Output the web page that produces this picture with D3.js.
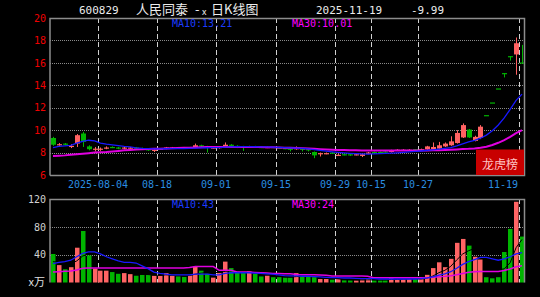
<!DOCTYPE html>
<html>
<head>
    <meta charset="utf-8">
    <title>600829 日K线图</title>
    <script src="https://d3js.org/d3.v7.min.js"></script>
    <style>
        body { margin: 0; background: #000; }
        svg { display: block; }
    </style>
</head>
<body>
<div id="chart"></div>
<script type="text/javascript">
    // trading days shown (80 bars)
    const dates = [
        '2025-07-23', '2025-07-24', '2025-07-25', '2025-07-28', '2025-07-29', '2025-07-30', '2025-07-31', '2025-08-01',
        '2025-08-04', '2025-08-05', '2025-08-06', '2025-08-07', '2025-08-08',
        '2025-08-11', '2025-08-12', '2025-08-13', '2025-08-14', '2025-08-15',
        '2025-08-18', '2025-08-19', '2025-08-20', '2025-08-21', '2025-08-22',
        '2025-08-25', '2025-08-26', '2025-08-27', '2025-08-28', '2025-08-29',
        '2025-09-01', '2025-09-02', '2025-09-03', '2025-09-04', '2025-09-05',
        '2025-09-08', '2025-09-09', '2025-09-10', '2025-09-11', '2025-09-12',
        '2025-09-15', '2025-09-16', '2025-09-17', '2025-09-18', '2025-09-19',
        '2025-09-22', '2025-09-23', '2025-09-24', '2025-09-25', '2025-09-26',
        '2025-09-29', '2025-09-30',
        '2025-10-09', '2025-10-10',
        '2025-10-13', '2025-10-14', '2025-10-15', '2025-10-16', '2025-10-17',
        '2025-10-20', '2025-10-21', '2025-10-22', '2025-10-23', '2025-10-24',
        '2025-10-27', '2025-10-28', '2025-10-29', '2025-10-30', '2025-10-31',
        '2025-11-03', '2025-11-04', '2025-11-05', '2025-11-06', '2025-11-07',
        '2025-11-10', '2025-11-11', '2025-11-12', '2025-11-13', '2025-11-14',
        '2025-11-17', '2025-11-18', '2025-11-19'
    ];

    const open = [9.3, 8.7, 8.8, 8.55, 8.8, 9.7, 8.55, 8.3, 8.3, 8.35,
        8.5, 8.45, 8.35, 8.4, 8.45, 8.4, 8.3, 8.15, 8.3, 8.35,
        8.4, 8.45, 8.45, 8.4, 8.45, 8.65, 8.55, 8.4, 8.4, 8.5,
        8.7, 8.6, 8.55, 8.5, 8.55, 8.5, 8.45, 8.5, 8.45, 8.4,
        8.35, 8.3, 8.35, 8.3, 8.05, 7.85, 7.9, 8.0, 7.75, 7.85,
        7.85, 7.8, 7.7, 7.9, 8.05, 8.05, 8.1, 8.05, 8.2, 8.2,
        8.2, 8.3, 8.25, 8.3, 8.3, 8.35, 8.55, 8.65, 8.85, 9.35,
        10.05, 9.04, 9.3, 11.34, 12.47, 13.72, 15.09, 16.6, 16.75, 17.6];
    const high = [9.4, 8.85, 8.85, 8.75, 9.65, 9.85, 8.65, 8.5, 8.45, 8.55,
        8.55, 8.5, 8.5, 8.5, 8.5, 8.45, 8.35, 8.3, 8.4, 8.5,
        8.5, 8.5, 8.5, 8.5, 8.8, 8.7, 8.6, 8.5, 8.55, 8.9,
        8.75, 8.65, 8.6, 8.6, 8.6, 8.55, 8.55, 8.5, 8.5, 8.45,
        8.4, 8.55, 8.4, 8.35, 8.1, 8.0, 8.0, 8.05, 7.9, 7.9,
        7.9, 7.9, 7.9, 8.05, 8.1, 8.1, 8.15, 8.25, 8.3, 8.3,
        8.3, 8.3, 8.35, 8.6, 8.9, 8.95, 8.9, 9.45, 10.0, 10.6,
        10.1, 9.5, 10.45, 11.34, 12.47, 13.72, 15.09, 16.6, 18.26, 17.6];
    const low = [8.6, 8.6, 8.65, 8.4, 8.5, 8.5, 8.2, 8.1, 8.15, 8.3,
        8.4, 8.3, 8.3, 8.35, 8.3, 8.3, 8.15, 8.05, 8.25, 8.3,
        8.35, 8.35, 8.35, 8.35, 8.4, 8.45, 8.0, 8.35, 8.35, 8.45,
        8.5, 8.4, 8.15, 8.45, 8.45, 8.4, 8.4, 8.4, 8.35, 8.3,
        8.1, 8.25, 8.1, 8.1, 7.5, 7.65, 7.85, 7.9, 7.7, 7.75,
        7.7, 7.75, 7.6, 7.85, 7.95, 7.95, 8.0, 8.0, 8.15, 8.15,
        8.15, 8.2, 8.2, 8.25, 8.25, 8.3, 8.5, 8.6, 8.8, 9.3,
        9.3, 9.0, 9.2, 11.34, 12.47, 13.72, 14.7, 16.2, 14.94, 15.98];
    const close = [8.7, 8.75, 8.7, 8.6, 9.55, 8.95, 8.3, 8.35, 8.35, 8.45,
        8.45, 8.35, 8.45, 8.45, 8.4, 8.35, 8.2, 8.25, 8.35, 8.45,
        8.45, 8.4, 8.4, 8.45, 8.65, 8.55, 8.45, 8.45, 8.5, 8.7,
        8.6, 8.55, 8.5, 8.55, 8.5, 8.45, 8.5, 8.45, 8.4, 8.35,
        8.3, 8.4, 8.3, 8.2, 7.75, 7.95, 7.95, 7.95, 7.8, 7.8,
        7.8, 7.85, 7.85, 8.0, 8.0, 8.0, 8.05, 8.2, 8.25, 8.25,
        8.25, 8.25, 8.3, 8.55, 8.5, 8.65, 8.8, 9.0, 9.75, 10.45,
        9.35, 9.4, 10.31, 11.34, 12.47, 13.72, 15.09, 16.6, 17.75, 15.98];

    // price moving averages
    const ma10 = [8.45, 8.55, 8.6, 8.65, 8.85, 9.0, 9.1, 9.05, 8.85, 8.75,
        8.68, 8.62, 8.55, 8.5, 8.42, 8.37, 8.35, 8.33, 8.33, 8.34,
        8.35, 8.35, 8.36, 8.38, 8.4, 8.42, 8.43, 8.44, 8.45, 8.48,
        8.5, 8.52, 8.53, 8.53, 8.52, 8.51, 8.5, 8.49, 8.47, 8.45,
        8.42, 8.4, 8.37, 8.33, 8.27, 8.2, 8.13, 8.07, 8.02, 7.97,
        7.93, 7.9, 7.88, 7.87, 7.88, 7.9, 7.92, 7.95, 7.98, 8.02,
        8.06, 8.1, 8.14, 8.19, 8.24, 8.3, 8.37, 8.45, 8.6, 8.78,
        8.96, 9.08, 9.28, 9.56, 9.95, 10.46, 11.09, 11.85, 12.65, 13.21];
    const ma30 = [7.7, 7.72, 7.75, 7.8, 7.85, 7.9, 7.95, 8.0, 8.02, 8.05,
        8.1, 8.15, 8.2, 8.24, 8.27, 8.3, 8.32, 8.33, 8.35, 8.36,
        8.38, 8.4, 8.42, 8.44, 8.46, 8.48, 8.49, 8.5, 8.5, 8.5,
        8.5, 8.5, 8.5, 8.5, 8.5, 8.49, 8.48, 8.47, 8.46, 8.44,
        8.42, 8.4, 8.38, 8.36, 8.33, 8.3, 8.28, 8.26, 8.24, 8.22,
        8.21, 8.2, 8.19, 8.18, 8.18, 8.18, 8.18, 8.18, 8.18, 8.18,
        8.18, 8.18, 8.18, 8.19, 8.2, 8.21, 8.23, 8.25, 8.28, 8.31,
        8.33, 8.37, 8.43, 8.52, 8.68, 8.87, 9.11, 9.4, 9.73, 10.01];

    // volume, in 万 (10k) lots
    const volume = [41, 25, 19, 22, 50, 74, 39, 20, 17, 17,
        15, 12.5, 13.5, 12, 9.7, 11, 11, 9.7, 9.7, 13.5,
        9.7, 8.7, 8, 10.4, 23, 17, 12.5, 7, 13.5, 30,
        20.7, 15, 13.5, 16, 12.5, 8.7, 9.7, 7.6, 7.6, 7,
        7, 13.5, 8.7, 8.7, 7.6, 5, 5, 4, 5, 3,
        3, 3, 4, 6, 3, 3, 3, 7.6, 5, 5,
        5, 5, 5, 11, 20.7, 29, 22, 34, 57, 62.6,
        53, 37, 33, 7.6, 6, 7.6, 43.8, 77, 116, 66];
    const vma5 = [30, 29, 28, 27, 31, 38, 41, 41, 40, 33,
        22, 16, 15, 14, 12.5, 11.6, 11.4, 10.7, 10.2, 11,
        10.7, 10.3, 9.9, 10, 12, 13.4, 14.2, 14, 14.7, 16,
        16.7, 17.3, 18.5, 19, 15.5, 13.1, 12.1, 10.9, 9.3, 8.1,
        7.8, 8.5, 8.8, 9, 9.1, 8.7, 7, 6.1, 5.3, 4.4,
        4, 3.6, 3.6, 3.8, 3.8, 3.8, 3.8, 4.5, 4.3, 4.7,
        5.1, 5.5, 5, 6.2, 9.3, 14.1, 17.5, 23.3, 32.5, 40.9,
        45.7, 48.7, 48.5, 38.6, 27.3, 18.4, 19.6, 28.4, 50.1, 61.9];
    const vma10 = [27, 29, 30, 32, 37, 42, 44, 44, 41, 37,
        34, 31, 29, 29, 28, 24, 20, 15, 13, 12,
        11, 11, 11, 11, 12, 12, 12, 11, 11, 13,
        14, 14, 14, 14, 13.5, 13, 12.5, 12, 11, 10,
        9.5, 9.5, 9, 9, 8.5, 8, 7.5, 7, 7, 6.5,
        6.5, 6, 5.5, 5.5, 5.5, 5, 5, 5, 5, 5,
        5, 5, 5.5, 6.5, 8, 10.5, 12.5, 15.5, 20.5, 26,
        30, 33, 36, 36, 34, 32, 34, 37, 41, 43];
    const vma30 = [15, 15.5, 16, 16.5, 18, 20.5, 20.7, 20.7, 20.7, 20.7,
        20.7, 20.7, 20.7, 20.7, 20.7, 20.7, 20.7, 20.7, 20.7, 20.7,
        20.7, 20.7, 20.7, 21.5, 23, 23, 23, 23, 17.5, 17.5,
        17.5, 15, 15, 15, 14.5, 14, 13.5, 13, 12.8, 12.6,
        12.4, 11.5, 11, 11, 11, 10.8, 10.5, 9.5, 9.5, 9.5,
        9.5, 9.5, 9.3, 9, 7, 7, 7, 7, 7, 7,
        7, 7, 7, 7, 7.5, 8.2, 8.8, 9.6, 11.2, 13,
        14.6, 15.4, 15.9, 15.9, 15.9, 15.9, 17.2, 19.5, 22.6, 24];

    // axis labels
    const priceTicks = [6, 8, 10, 12, 14, 16, 18, 20];
    const volTicks = [40, 80, 120];
    const dateTicks = ['2025-08-04', '2025-08-18', '2025-09-01', '2025-09-15', '2025-09-29', '2025-10-15', '2025-10-27', '2025-11-19'];
    const dateTickLabels = ['2025-08-04', '08-18', '09-01', '09-15', '09-29', '10-15', '10-27', '11-19'];

    const code = '600829', name = '人民同泰', lastDate = '2025-11-19', lastChange = '-9.99';

    const width = 540, height = 297;
    const left = 50, right = 525;
    const pTop = 18, pBottom = 175;
    const vTop = 199, vBottom = 282.5;

    const red = '#ff6262', green = '#00b400';
    const mono = '"DejaVu Sans Mono", monospace';
    const cjk = '"Noto Sans CJK SC", sans-serif';

    const svg = d3.select('#chart').append('svg')
        .attr('width', width).attr('height', height)
        .style('background', '#000');

    const x = d3.scaleBand(d3.range(dates.length), [left, right]);
    const bw = x.bandwidth();
    const cx = i => x(i) + bw / 2;
    const y = d3.scaleLinear([6, 20], [pBottom, pTop]);
    const yv = d3.scaleLinear([0, 120], [vBottom, vTop]);

    // grid: dotted horizontals
    const grid = svg.append('g');
    grid.selectAll('line.hp')
        .data(priceTicks.filter(t => t > 6 && t < 20))
        .enter().append('line')
        .attr('x1', left).attr('x2', right)
        .attr('y1', d => Math.round(y(d)) + 0.5).attr('y2', d => Math.round(y(d)) + 0.5)
        .attr('stroke', '#8a8a8a').attr('stroke-dasharray', '1,1');
    grid.selectAll('line.hv')
        .data(volTicks.filter(t => t < 120))
        .enter().append('line')
        .attr('x1', left).attr('x2', right)
        .attr('y1', d => Math.round(yv(d)) + 0.5).attr('y2', d => Math.round(yv(d)) + 0.5)
        .attr('stroke', '#8a8a8a').attr('stroke-dasharray', '1,1');

    // dashed verticals at the date ticks
    const tickIdx = dateTicks.map(d => dates.indexOf(d));
    [[pTop, pBottom], [vTop, vBottom]].forEach(([t, b]) => {
        grid.selectAll(null)
            .data(tickIdx)
            .enter().append('line')
            .attr('x1', i => Math.round(x(i)) + 0.5).attr('x2', i => Math.round(x(i)) + 0.5)
            .attr('y1', t).attr('y2', b)
            .attr('stroke', '#d0d0d0').attr('stroke-dasharray', '5,3');
    });

    // candles
    const candles = svg.append('g');
    const idx = d3.range(dates.length);
    const last = dates.length - 1;
    const colorOf = i => close[i] > open[i] ? red : green;

    candles.selectAll('line.wick')
        .data(idx)
        .enter().append('line')
        .attr('x1', i => Math.round(cx(i)) + 0.5).attr('x2', i => Math.round(cx(i)) + 0.5)
        .attr('y1', i => y(high[i])).attr('y2', i => y(low[i]))
        .attr('stroke', colorOf);

    candles.selectAll('rect.body')
        .data(idx.filter(i => i !== last))
        .enter().append('rect')
        .attr('x', i => Math.round(cx(i)) - 2)
        .attr('width', 5)
        .attr('y', i => y(Math.max(open[i], close[i])))
        .attr('height', i => Math.max(y(Math.min(open[i], close[i])) - y(Math.max(open[i], close[i])), 1.2))
        .attr('fill', colorOf);

    // the latest bar is drawn as a thin stroke with a tick at the close
    candles.append('line')
        .attr('x1', Math.round(cx(last)) - 2.5).attr('x2', Math.round(cx(last)) + 3)
        .attr('y1', y(close[last])).attr('y2', y(close[last]))
        .attr('stroke', colorOf(last)).attr('stroke-width', 1.2);

    // price MAs
    const line = d3.line().x((d, i) => cx(i)).y(d => y(d));
    svg.append('path').datum(ma30).attr('d', line)
        .attr('fill', 'none').attr('stroke', '#e000e0').attr('stroke-width', 2);
    svg.append('path').datum(ma10).attr('d', line)
        .attr('fill', 'none').attr('stroke', '#1818ff').attr('stroke-width', 1.3);

    // volume bars
    svg.append('g').selectAll('rect')
        .data(idx)
        .enter().append('rect')
        .attr('x', i => Math.round(cx(i)) - 2)
        .attr('width', 4.5)
        .attr('y', i => yv(volume[i]))
        .attr('height', i => vBottom - yv(volume[i]))
        .attr('fill', i => close[i] > open[i] ? '#ff6464' : '#00b400');

    const vline = d3.line().x((d, i) => cx(i)).y(d => yv(d));
    svg.append('path').datum(vma5).attr('d', vline)
        .attr('fill', 'none').attr('stroke', '#000').attr('stroke-width', 1);
    svg.append('path').datum(vma30).attr('d', vline)
        .attr('fill', 'none').attr('stroke', '#e000e0').attr('stroke-width', 1.5);
    svg.append('path').datum(vma10).attr('d', vline)
        .attr('fill', 'none').attr('stroke', '#1818ff').attr('stroke-width', 1.3);

    // frames
    const frame = svg.append('g').attr('stroke', '#8c8c8c').attr('fill', 'none');
    frame.append('path').attr('d', `M${left},${pBottom + 0.5} V${pTop + 0.5} H${right - 0.5} V${pBottom + 0.5} H${left}`).attr('stroke-width', 1.5);
    frame.append('path').attr('d', `M${left},${vBottom} V${vTop + 0.5} H${right - 0.5} V${vBottom}`).attr('stroke-width', 1.5);

    // 龙虎榜 badge
    svg.append('rect').attr('x', 476).attr('y', 149.5).attr('width', right - 1 - 476).attr('height', pBottom - 149.5)
        .attr('fill', '#c80000');
    svg.append('text').attr('x', 500).attr('y', 168.5).attr('text-anchor', 'middle')
        .style('font-family', cjk).style('font-size', '12px').attr('fill', '#ffc4c4')
        .text('龙虎榜');

    // axis labels
    const yAxis = svg.append('g').attr('transform', `translate(${left},0)`)
        .call(d3.axisLeft(y).tickValues(priceTicks).tickSize(0).tickPadding(4).tickFormat(d3.format('d')));
    yAxis.select('.domain').remove();
    yAxis.selectAll('text').style('font-family', mono).style('font-size', '10px').attr('fill', '#f00000');

    const vAxis = svg.append('g').attr('transform', `translate(${left},0)`)
        .call(d3.axisLeft(yv).tickValues(volTicks).tickSize(0).tickPadding(4));
    vAxis.select('.domain').remove();
    vAxis.selectAll('text').style('font-family', mono).style('font-size', '10px').attr('fill', '#d2d2d2');

    svg.append('text').attr('x', 45).attr('y', vBottom + 3.5).attr('text-anchor', 'end')
        .style('font-family', cjk).style('font-size', '11px').attr('fill', '#e0e0e0')
        .text('x万');

    // date labels, the last one kept inside the plot
    svg.append('g').selectAll('text')
        .data(tickIdx)
        .enter().append('text')
        .attr('x', (i, k) => Math.round(x(i)) + (k === tickIdx.length - 1 ? -1 : 0))
        .attr('y', 188)
        .attr('text-anchor', (i, k) => k === tickIdx.length - 1 ? 'end' : 'middle')
        .style('font-family', mono).style('font-size', '10px').attr('fill', '#2a8ee0')
        .text((i, k) => dateTickLabels[k]);

    // MA legends
    const legend = (xp, yp, txt, col) => svg.append('text').attr('x', xp).attr('y', yp)
        .style('font-family', mono).style('font-size', '10px').attr('fill', col).text(txt);
    legend(172, 27, 'MA10:' + ma10[last].toFixed(2), '#1c3cff');
    legend(292, 27, 'MA30:' + ma30[last].toFixed(2), '#ff00ff');
    legend(172, 208, 'MA10:' + Math.round(vma10[last]), '#1c3cff');
    legend(292, 208, 'MA30:' + Math.round(vma30[last]), '#ff00ff');

    // title
    const title = svg.append('g').attr('fill', '#ececec');
    title.append('text').attr('x', 79).attr('y', 13.5)
        .style('font-family', mono).style('font-size', '11px').text(code);
    title.append('text').attr('x', 136).attr('y', 14)
        .style('font-family', cjk).style('font-size', '13px').text(name);
    title.append('text').attr('x', 195).attr('y', 14)
        .style('font-family', cjk).style('font-size', '13px').text('-');
    title.append('text').attr('x', 202).attr('y', 15)
        .style('font-family', cjk).style('font-size', '9px').text('x');
    title.append('text').attr('x', 211).attr('y', 14)
        .style('font-family', cjk).style('font-size', '13px').text('日K线图');
    title.append('text').attr('x', 316).attr('y', 13.5)
        .style('font-family', mono).style('font-size', '11px').text(lastDate);
    title.append('text').attr('x', 411).attr('y', 13.5)
        .style('font-family', mono).style('font-size', '11px').text(lastChange);
</script>
</body>
</html>
